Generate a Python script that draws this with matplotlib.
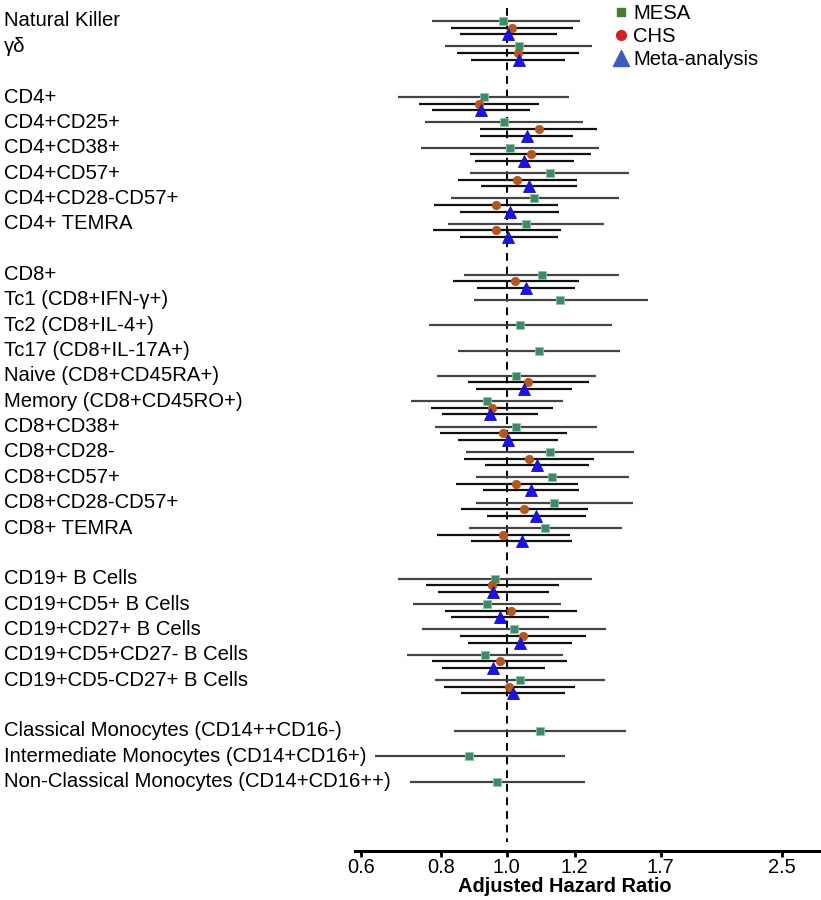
import numpy as np
import matplotlib
matplotlib.use("Agg")
import matplotlib.pyplot as plt
from matplotlib.lines import Line2D
from matplotlib.transforms import blended_transform_factory

plt.rcParams['font.family'] = ['Liberation Sans', 'DejaVu Sans']

nan = np.nan

labels = ["Natural Killer", "γδ",
          "CD4+", "CD4+CD25+", "CD4+CD38+", "CD4+CD57+", "CD4+CD28-CD57+", "CD4+ TEMRA",
          "CD8+", "Tc1 (CD8+IFN-γ+)", "Tc2 (CD8+IL-4+)", "Tc17 (CD8+IL-17A+)",
          "Naive (CD8+CD45RA+)", "Memory (CD8+CD45RO+)", "CD8+CD38+", "CD8+CD28-",
          "CD8+CD57+", "CD8+CD28-CD57+", "CD8+ TEMRA",
          "CD19+ B Cells", "CD19+CD5+ B Cells", "CD19+CD27+ B Cells",
          "CD19+CD5+CD27- B Cells", "CD19+CD5-CD27+ B Cells",
          "Classical Monocytes (CD14++CD16-)", "Intermediate Monocytes (CD14+CD16+)",
          "Non-Classical Monocytes (CD14+CD16++)"]
group_sizes = [2, 6, 11, 5, 3]

mesa_hr = [0.987, 1.042, 0.926, 0.992, 1.012, 1.159, 1.099, 1.067,
           1.127, 1.201, 1.048, 1.116, 1.034, 0.935, 1.032, 1.158, 1.169, 1.175, 1.140,
           0.962, 0.935, 1.026, 0.929, 1.047, 1.121, 0.881, 0.968]
mesa_lo = [0.775, 0.811, 0.692, 0.757, 0.747, 0.883, 0.827, 0.820,
           0.866, 0.894, 0.768, 0.847, 0.789, 0.723, 0.785, 0.870, 0.902, 0.901, 0.881,
           0.690, 0.728, 0.749, 0.712, 0.783, 0.836, 0.639, 0.721]
mesa_hi = [1.284, 1.339, 1.237, 1.298, 1.371, 1.518, 1.465, 1.392,
           1.466, 1.617, 1.432, 1.470, 1.357, 1.211, 1.359, 1.545, 1.517, 1.539, 1.480,
           1.339, 1.204, 1.403, 1.212, 1.399, 1.502, 1.220, 1.305]

chs_hr = [1.019, 1.039, 0.911, 1.116, 1.086, 1.036, 0.963, 0.966,
          1.030, nan, nan, nan, 1.076, 0.951, 0.989, 1.080, 1.033, 1.061, 0.988,
          0.953, 1.015, 1.058, 0.977, 1.008, nan, nan, nan]
chs_lo = [0.827, 0.846, 0.743, 0.914, 0.884, 0.847, 0.780, 0.778,
          0.833, nan, nan, nan, 0.876, 0.772, 0.797, 0.865, 0.841, 0.857, 0.789,
          0.760, 0.812, 0.854, 0.777, 0.807, nan, nan, nan]
chs_hi = [1.255, 1.281, 1.116, 1.360, 1.334, 1.270, 1.190, 1.202,
          1.280, nan, nan, nan, 1.323, 1.173, 1.229, 1.347, 1.274, 1.318, 1.240,
          1.197, 1.270, 1.309, 1.230, 1.262, nan, nan, nan]

meta_hr = [1.006, 1.042, 0.916, 1.071, 1.061, 1.080, 1.012, 1.006,
           1.069, nan, nan, nan, 1.060, 0.945, 1.005, 1.108, 1.086, 1.106, 1.053,
           0.956, 0.979, 1.047, 0.956, 1.023, nan, nan, nan]
meta_lo = [0.854, 0.886, 0.777, 0.914, 0.897, 0.917, 0.852, 0.852,
           0.905, nan, nan, nan, 0.902, 0.803, 0.849, 0.930, 0.923, 0.935, 0.887,
           0.793, 0.829, 0.876, 0.804, 0.857, nan, nan, nan]
meta_hi = [1.186, 1.221, 1.082, 1.255, 1.258, 1.270, 1.197, 1.190,
           1.262, nan, nan, nan, 1.250, 1.112, 1.193, 1.323, 1.278, 1.310, 1.250,
           1.154, 1.157, 1.251, 1.139, 1.220, nan, nan, nan]

tick_pos = [0.61, 0.80, 1.0, 1.26, 1.69, 2.55]
tick_labels = ["0.6", "0.8", "1.0", "1.2", "1.7", "2.5"]

# row positions: one unit per row, two-unit gap between groups
ys = []
pos = 0
for g in group_sizes:
    for i in range(g):
        ys.append(pos)
        pos += 1
    pos += 1
ys = np.array(ys, dtype=float)

fig = plt.figure(figsize=(8.21, 9.0), dpi=100)
ax = fig.add_axes([355 / 821, 1 - 851 / 900, 465 / 821, 851 / 900])
ax.set_xscale('log')
ax.set_xlim(0.597, 2.905)
row_px = 25.35
ax.set_ylim((851 - 21) / row_px, -21 / row_px)

series = [
    (mesa_hr, mesa_lo, mesa_hi, 0.0, 's', '#3b8c66', 6.0, '#8fc4a8', '#444444'),
    (chs_hr, chs_lo, chs_hi, 0.26, 'o', '#b5561c', 6.0, '#b5561c', '#111111'),
    (meta_hr, meta_lo, meta_hi, 0.52, '^', '#1a10f5', 9.0, '#1a10a0', '#111111'),
]
for k, (hr, lo, hi, off, mk, col, ms, ec, lc) in enumerate(series):
    hr = np.array(hr); lo = np.array(lo); hi = np.array(hi)
    ok = ~np.isnan(hr)
    ax.hlines(ys[ok] + off, lo[ok], hi[ok], color=lc, lw=1.6, zorder=2)
for k, (hr, lo, hi, off, mk, col, ms, ec, lc) in enumerate(series):
    hr = np.array(hr)
    ok = ~np.isnan(hr)
    ax.plot(hr[ok], ys[ok] + off, mk, color=col, ms=ms, mec=ec, mew=0.6,
            zorder=3 + k, linestyle='none')

ax.vlines(1.0, (8 - 21) / row_px, (842 - 21) / row_px, colors='black',
          linestyles=(0, (4, 3)), lw=1.4, zorder=1)

trans = blended_transform_factory(fig.transFigure, ax.transData)
for y, lab in zip(ys, labels):
    ax.text(4 / 821, y, lab, transform=trans, ha='left', va='center',
            fontsize=14.6, color='black', clip_on=False)

for s in ['top', 'right', 'left']:
    ax.spines[s].set_visible(False)
ax.spines['bottom'].set_linewidth(2.2)
ax.set_yticks([])
ax.minorticks_off()
ax.set_xticks(tick_pos)
ax.set_xticklabels(tick_labels, fontsize=14.4)
ax.tick_params(axis='x', which='major', direction='out', length=4, width=2, pad=1)
ax.tick_params(axis='x', which='minor', length=0)
ax.set_xlabel("Adjusted Hazard Ratio", fontsize=14.4, fontweight='bold')
ax.xaxis.set_label_coords((565 - 355) / 465, -(877 - 851) / 851)

handles = [
    Line2D([], [], marker='s', color='#4b7a33', ms=6, linestyle='none'),
    Line2D([], [], marker='o', color='#d42020', ms=7, linestyle='none'),
    Line2D([], [], marker='^', color='#3a5bc0', ms=11, linestyle='none'),
]
fig.legend(handles, ["MESA", "CHS", "Meta-analysis"], loc='upper left',
           bbox_to_anchor=(601 / 821, 1 + 4 / 900), frameon=False, fontsize=14.6,
           handletextpad=0.0, labelspacing=0.2, handlelength=1.2, borderaxespad=0)

fig.savefig("out.png", dpi=100)
